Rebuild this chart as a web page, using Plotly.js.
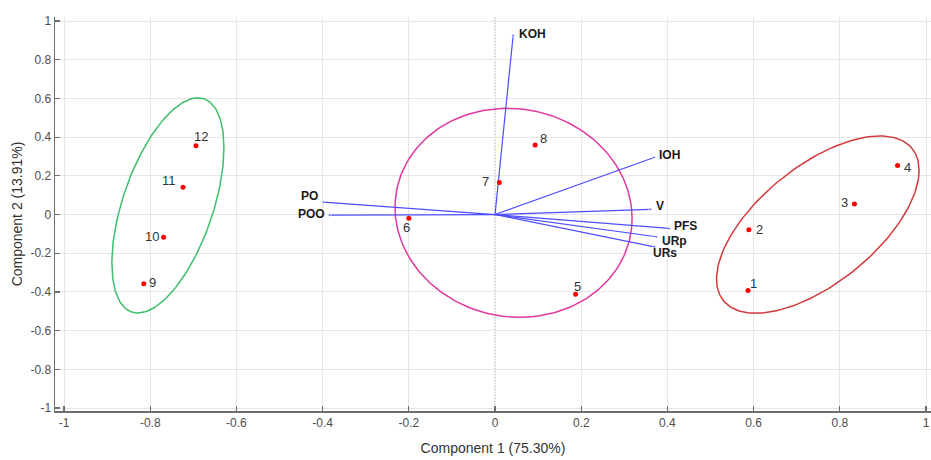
<!DOCTYPE html>
<html>
<head>
<meta charset="utf-8">
<script src="https://cdn.plot.ly/plotly-3.0.1.min.js"></script>
<style>html,body{margin:0;padding:0;background:#fff;}#chart{width:931px;height:460px;}</style>
</head>
<body>
<div id="chart"></div>
<script>
// Observation scores
const obsLabels = ['1','2','3','4','5','6','7','8','9','10','11','12'];
const obsX = [0.587, 0.589, 0.834, 0.934, 0.187, -0.200, 0.010, 0.093, -0.815, -0.769, -0.724, -0.694];
const obsY = [-0.393, -0.079, 0.055, 0.253, -0.412, -0.019, 0.165, 0.360, -0.358, -0.117, 0.141, 0.355];

// Variable loadings
const varNames = ['KOH','IOH','V','PFS','URp','URs','PO','POO'];
const varX = [0.042, 0.369, 0.360, 0.404, 0.374, 0.370, -0.398, -0.384];
const varY = [0.925, 0.295, 0.027, -0.072, -0.115, -0.167, 0.064, -0.003];

// Group ellipses (center, half-width, half-height, phase in degrees)
const ellCX = [-0.759, 0.043, 0.749];
const ellCY = [0.047, 0.009, -0.052];
const ellW = [0.130, 0.275, 0.235];
const ellH = [0.556, 0.540, 0.458];
const ellPhi = [57.6, 93, 52.2];

// Label placement (pixels) and styling
const obsLabelShift = [[5,7],[11,0],[-10,1],[10,-2],[2,8],[-2,-9],[-14,1],[8,6],[9,1],[-12,1],[-14,7],[5,9]];
const varLabelShift = [[4,2,'left'],[3,2,'left'],[4,3,'left'],[3,2,'left'],[4,-4,'left'],[-3,-6,'left'],[-4,6,'right'],[-3,1,'right']];
const ellColors = ['#3dbf6e', '#e0389e', '#d23a3a'];

const traces = [];
const N = 180;
for (let k = 0; k < ellCX.length; k++) {
  const ex = [], ey = [];
  const phi = ellPhi[k] * Math.PI / 180;
  for (let i = 0; i <= N; i++) {
    const t = 2 * Math.PI * i / N;
    ex.push(ellCX[k] + ellW[k] * Math.cos(t));
    ey.push(ellCY[k] + ellH[k] * Math.cos(t - phi));
  }
  traces.push({x: ex, y: ey, mode: 'lines', line: {color: ellColors[k], width: 1.5}, hoverinfo: 'skip', showlegend: false});
}
for (let i = 0; i < varNames.length; i++) {
  traces.push({x: [0, varX[i]], y: [0, varY[i]], mode: 'lines+markers',
    line: {color: '#4d4dff', width: 1.2},
    marker: {color: '#4d4dff', size: [0, 3]},
    name: varNames[i], showlegend: false});
}
traces.push({x: obsX, y: obsY, mode: 'markers', marker: {color: '#ff0000', size: 5},
  text: obsLabels, showlegend: false});

const annotations = [];
for (let i = 0; i < obsLabels.length; i++) {
  annotations.push({x: obsX[i], y: obsY[i], text: obsLabels[i], showarrow: false,
    xanchor: 'center', yanchor: 'middle', xshift: obsLabelShift[i][0], yshift: obsLabelShift[i][1],
    font: {family: 'Liberation Sans, Arial', size: 13, color: '#333333'}});
}
for (let i = 0; i < varNames.length; i++) {
  annotations.push({x: varX[i], y: varY[i], text: '<b>' + varNames[i] + '</b>', showarrow: false,
    xanchor: varLabelShift[i][2], yanchor: 'middle', xshift: varLabelShift[i][0], yshift: varLabelShift[i][1],
    font: {family: 'Liberation Sans, Arial', size: 12, color: '#1a1a1a'}});
}

const axisCommon = {
  showgrid: true, gridcolor: '#e6e6e6', gridwidth: 1,
  zeroline: false, showline: true, linecolor: '#6e6e6e', linewidth: 1.5,
  ticks: 'inside', ticklen: 5, tickcolor: '#6e6e6e', tickwidth: 1.2,
  tickfont: {family: 'Liberation Sans, Arial', size: 12, color: '#4d4d4d'},
  mirror: false
};

const layout = {
  width: 931, height: 460,
  margin: {l: 55, r: 0, t: 17, b: 49},
  paper_bgcolor: '#ffffff', plot_bgcolor: '#ffffff',
  xaxis: Object.assign({}, axisCommon, {
    range: [-1.021, 1.0116], tickvals: [-1,-0.8,-0.6,-0.4,-0.2,0,0.2,0.4,0.6,0.8,1],
    ticktext: ['-1','-0.8','-0.6','-0.4','-0.2','0','0.2','0.4','0.6','0.8','1'],
    title: {text: 'Component 1 (75.30%)', standoff: 14, font: {family: 'Liberation Sans, Arial', size: 14, color: '#333333'}}
  }),
  yaxis: Object.assign({}, axisCommon, {
    range: [-1.0155, 1.021], tickvals: [-1,-0.8,-0.6,-0.4,-0.2,0,0.2,0.4,0.6,0.8,1],
    ticktext: ['-1','-0.8','-0.6','-0.4','-0.2','0','0.2','0.4','0.6','0.8','1'],
    title: {text: 'Component 2 (13.91%)', standoff: 4, font: {family: 'Liberation Sans, Arial', size: 14, color: '#333333'}}
  }),
  shapes: [
    {type: 'line', xref: 'paper', yref: 'y', x0: 0, x1: 1, y0: 0, y1: 0, line: {color: '#7a7a7a', width: 1, dash: '1px,2px'}, layer: 'below'},
    {type: 'line', xref: 'x', yref: 'paper', x0: 0, x1: 0, y0: 0, y1: 1, line: {color: '#7a7a7a', width: 1, dash: '1px,2px'}, layer: 'below'}
  ],
  annotations: annotations,
  showlegend: false
};

Plotly.newPlot('chart', traces, layout, {displayModeBar: false, staticPlot: true});
</script>
</body>
</html>
